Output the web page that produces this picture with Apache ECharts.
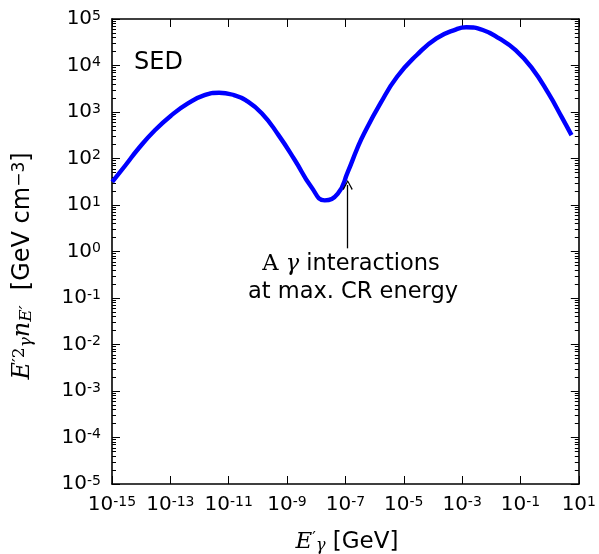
<!DOCTYPE html>
<html><head><meta charset="utf-8">
<script src="https://cdn.jsdelivr.net/npm/echarts@6/dist/echarts.min.js"></script>
<style>html,body{margin:0;padding:0;background:#fff}#c{width:599px;height:554px}</style>
</head><body><div id="c"></div>
<script>
// photon energy E'_gamma [GeV]
const energyGeV = [1.02e-15, 2.9e-15, 8.1e-15, 2.95e-14, 1.1e-13, 4.0e-13, 1.48e-12, 4.68e-12,
  1.51e-11, 3.8e-11, 1.38e-10, 5.1e-10, 1.86e-9, 6.8e-9, 1.95e-8, 5.5e-8, 1.2e-7, 2.57e-7,
  4.37e-7, 1.58e-6, 5.9e-6, 2.8e-5, 1.32e-4, 6.3e-4, 1.38e-3, 5.1e-3, 1.86e-2, 6.8e-2,
  0.251, 0.912, 2.57, 5.62];
// SED E'^2 n_E' [GeV cm^-3]
const sedValues = [31.3, 71.6, 164, 406, 855, 1528, 2307, 2588,
  2307, 1799, 931, 318, 91.8, 24.4, 12.6, 17.6, 51, 167,
  345, 1528, 5715, 16790, 38370, 59980, 66220, 57940, 38370, 21480,
  8670, 2512, 787, 318];
const xTickValues = [1e-15, 1e-13, 1e-11, 1e-9, 1e-7, 1e-5, 1e-3, 1e-1, 1e1];
const yTickValues = [1e-5, 1e-4, 1e-3, 1e-2, 1e-1, 1e0, 1e1, 1e2, 1e3, 1e4, 1e5];
const yMinorTickValues = [];
for (let d = -5; d < 5; d++) for (let k = 2; k <= 9; k++) yMinorTickValues.push(Number((k + 'e' + d)));
const arrowX = 1.2e-7;
const arrowY = [1.17, 27];
const annotationLines = ['{r|A} {g|γ} interactions', 'at max. CR energy'];

const seriesData = energyGeV.map((x, i) => [x, sedValues[i]]);

function powLabel(v) {
  const e = Math.round(Math.log10(v));
  return '{b|10}{s|' + (e < 0 ? '-' + (-e) : '' + e) + '}';
}
const labelRich = {
  b: {fontSize: 20, fontFamily: 'DejaVu Sans', color: '#000', lineHeight: 20, verticalAlign: 'bottom'},
  s: {fontSize: 14, fontFamily: 'DejaVu Sans', color: '#000', lineHeight: 14, padding: [0, 0, 10, 0], verticalAlign: 'top'}
};
const axisLineStyle = {color: '#000', width: 1.6};
function xAx(pos, showLabel) {
  return {
    type: 'log', logBase: 10, min: 1e-15, max: 10, position: pos, gridIndex: 0,
    axisLine: {show: true, onZero: false, lineStyle: axisLineStyle},
    axisTick: {show: true, inside: true, length: 8, customValues: xTickValues, lineStyle: {color: '#000', width: 1}},
    axisLabel: {show: showLabel, customValues: xTickValues, formatter: powLabel, rich: labelRich, margin: 11},
    splitLine: {show: false}, minorTick: {show: false}
  };
}
function yAx(pos, showLabel, minor) {
  return {
    type: 'log', logBase: 10, min: 1e-5, max: 1e5, position: pos, gridIndex: 0, offset: 0,
    axisLine: {show: !minor, onZero: false, lineStyle: axisLineStyle},
    axisTick: {show: true, inside: true, length: minor ? 4 : 8, customValues: minor ? yMinorTickValues : yTickValues,
      lineStyle: {color: '#000', width: 1}},
    axisLabel: {show: showLabel, customValues: yTickValues, formatter: powLabel, rich: labelRich, margin: 11},
    splitLine: {show: false}, minorTick: {show: false}
  };
}
const serif = 'DejaVu Serif';
const chart = echarts.init(document.getElementById('c'), null, {renderer: 'canvas'});
chart.setOption({
  animation: false,
  backgroundColor: '#fff',
  grid: {left: 112, top: 19, width: 472, height: 465, containLabel: false},
  xAxis: [xAx('bottom', true), xAx('top', false)],
  yAxis: [yAx('left', true, false), yAx('right', false, false), yAx('left', false, true), yAx('right', false, true)],
  series: [{
    type: 'line', xAxisIndex: 0, yAxisIndex: 0, data: seriesData, smooth: 0.5, showSymbol: false,
    lineStyle: {color: '#0000ff', width: 4.4, join: 'round', cap: 'butt'}, itemStyle: {color: '#0000ff'},
    markLine: {
      silent: true, animation: false,
      symbol: ['none', 'path://M5,0 L10,9 L9,10 L5,2.2 L1,10 L0,9 Z'], symbolSize: [10, 10],
      lineStyle: {color: '#000', width: 1.3, type: 'solid'}, label: {show: false},
      data: [[{coord: [arrowX, arrowY[0]]}, {coord: [arrowX, arrowY[1]]}]]
    }
  }],
  graphic: [
    {type: 'text', x: 134, y: 51, style: {text: 'SED', font: '24px "DejaVu Sans"', fill: '#000'}},
    {type: 'text', x: 351, y: 264, style: {text: annotationLines[0], align: 'center', verticalAlign: 'middle',
      font: '22.5px "DejaVu Sans"', fill: '#000',
      rich: {r: {fontFamily: serif, fontSize: 22.5}, g: {fontFamily: serif, fontStyle: 'italic', fontSize: 22.5}}}},
    {type: 'text', x: 353, y: 292, style: {text: annotationLines[1], align: 'center', verticalAlign: 'middle',
      font: '22.5px "DejaVu Sans"', fill: '#000'}},
    {type: 'text', x: 347, y: 542, style: {
      text: '{e|E}{p|′}{sub|γ}{t| [GeV]}', align: 'center', verticalAlign: 'middle', fill: '#000',
      rich: {
        e: {fontFamily: serif, fontStyle: 'italic', fontSize: 23, lineHeight: 23},
        p: {fontFamily: serif, fontSize: 16, lineHeight: 16, padding: [0, 0, 12, 0], verticalAlign: 'top'},
        sub: {fontFamily: serif, fontStyle: 'italic', fontSize: 16, lineHeight: 16, padding: [12, 0, 0, 0], verticalAlign: 'bottom'},
        t: {fontFamily: 'DejaVu Sans', fontSize: 23, lineHeight: 23}
      }}},
    {type: 'text', x: 23, y: 266, rotation: Math.PI / 2, style: {
      text: '{e|E}{sup|′2}{sub|γ}{e|n}{sub|E′}{t|  [GeV cm}{sup2|−3}{t|]}', align: 'center', verticalAlign: 'middle', fill: '#000',
      rich: {
        e: {fontFamily: serif, fontStyle: 'italic', fontSize: 24, lineHeight: 24},
        sup: {fontFamily: serif, fontSize: 17, lineHeight: 17, padding: [0, 0, 15, 0], verticalAlign: 'top'},
        sub: {fontFamily: serif, fontStyle: 'italic', fontSize: 17, lineHeight: 17, padding: [15, 0, 0, 0], verticalAlign: 'bottom'},
        t: {fontFamily: 'DejaVu Sans', fontSize: 24, lineHeight: 24},
        sup2: {fontFamily: 'DejaVu Sans', fontSize: 17, lineHeight: 17, padding: [0, 0, 15, 0], verticalAlign: 'top'}
      }}}
  ]
});
</script></body></html>
